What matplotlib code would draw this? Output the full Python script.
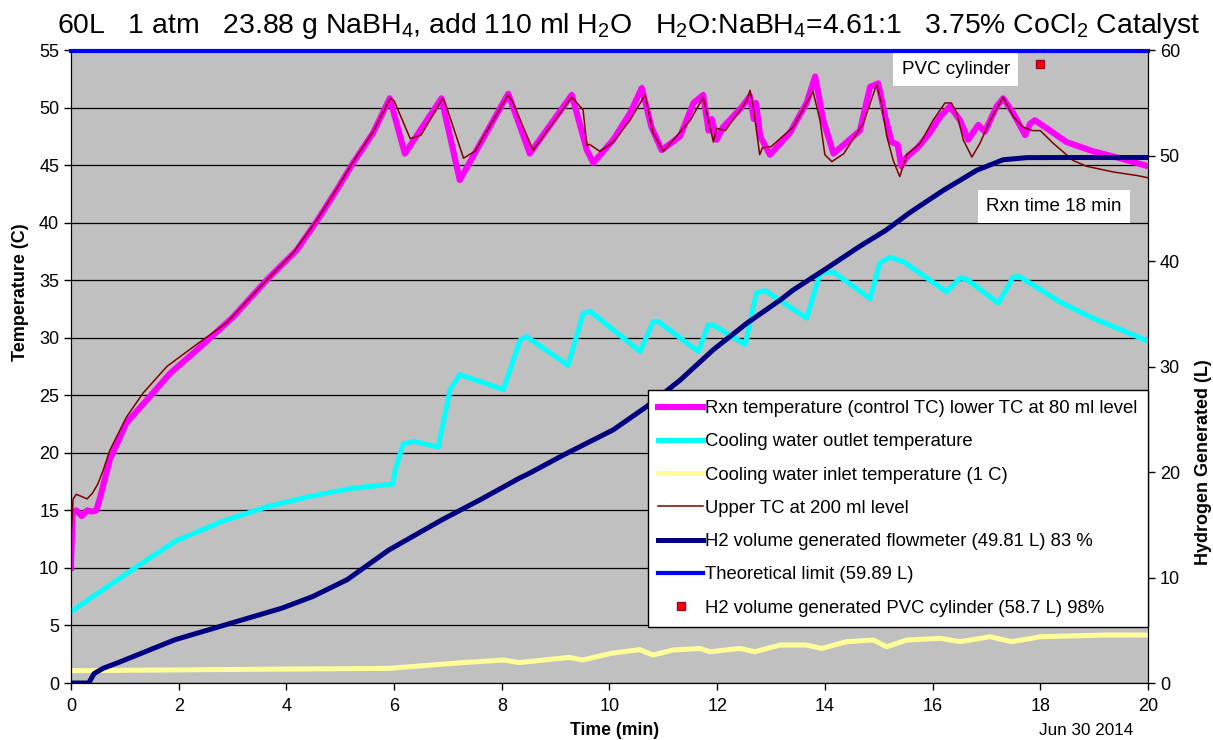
import matplotlib
matplotlib.use('Agg')
from matplotlib import pyplot as plt
from matplotlib.lines import Line2D

plt.rcParams['font.family'] = ['Liberation Sans', 'DejaVu Sans']
plt.rcParams['mathtext.fontset'] = 'custom'
plt.rcParams['mathtext.rm'] = 'Liberation Sans'
plt.rcParams['mathtext.default'] = 'regular'

# reaction (lower) thermocouple, deg C
rxn_t = [0, 0.03, 0.1, 0.2, 0.3, 0.4, 0.47, 0.54, 0.72, 1.03, 1.41, 1.84, 2.4, 3.01, 3.63, 4.19,
         4.56, 4.93, 5.24, 5.61, 5.92, 6.2, 6.88, 7.22, 8.12, 8.52, 9.3, 9.58, 9.7, 10.07, 10.38,
         10.6, 10.78, 10.97, 11.31, 11.56, 11.74, 11.84, 11.9, 11.99, 12.11, 12.45, 12.61, 12.68,
         12.72, 12.8, 12.98, 13.35, 13.66, 13.82, 13.97, 14.16, 14.53, 14.65, 14.84, 14.99, 15.12,
         15.24, 15.35, 15.42, 15.52, 15.72, 15.95, 16.14, 16.32, 16.51, 16.66, 16.85, 16.97, 17.19,
         17.31, 17.5, 17.72, 17.81, 17.9, 18.12, 18.49, 18.98, 19.48, 20.0]
rxn_temp = [10.0, 14.8, 15.0, 14.5, 15.0, 14.9, 15.0, 16.1, 19.4, 22.6, 24.6, 26.9, 29.2, 31.8, 35.0, 37.6,
            40.1, 42.8, 45.2, 47.8, 50.8, 46.0, 50.8, 43.7, 51.2, 46.0, 51.1, 46.3, 45.2, 47.2, 49.5,
            51.7, 48.3, 46.3, 47.5, 50.4, 51.1, 48.0, 49.0, 47.2, 48.3, 50.0, 51.0, 49.0,
            50.4, 47.5, 45.9, 47.8, 50.4, 52.7, 48.9, 46.0, 47.5, 48.0, 51.8, 52.1, 49.2,
            47.0, 46.8, 44.9, 45.7, 46.5, 47.8, 49.2, 50.1, 48.9, 47.2, 48.5, 47.9, 50.1,
            50.8, 49.5, 47.6, 48.6, 48.9, 48.2, 47.0, 46.2, 45.6, 44.9]

# upper thermocouple, deg C
upper_t = [0, 0.04, 0.1, 0.2, 0.3, 0.4, 0.5, 0.6, 0.72, 1.03, 1.34, 1.78, 2.27, 2.89, 3.51, 4.13, 4.56,
           4.93, 5.24, 5.61, 5.93, 6.0, 6.3, 6.5, 6.9, 6.95, 7.29, 7.5, 8.12, 8.2, 8.58, 9.3, 9.51,
           9.58, 9.63, 9.82, 10.07, 10.38, 10.66, 10.81, 11.0, 11.5, 11.74, 11.93, 11.99, 12.15,
           12.55, 12.61, 12.67, 12.79, 12.84, 13.0, 13.41, 13.78, 13.91, 14.0, 14.13, 14.35, 14.71,
           14.96, 15.05, 15.15, 15.27, 15.39, 15.52, 15.77, 16.01, 16.23, 16.35, 16.45, 16.57, 16.73,
           16.88, 17.07, 17.31, 17.5, 17.68, 17.85, 18.0, 18.24, 18.61, 18.86, 19.36, 19.79, 20.0]
upper_temp = [12.5, 16.0, 16.4, 16.2, 16.0, 16.5, 17.3, 18.5, 20.2, 23.1, 25.2, 27.5, 29.2, 31.3, 34.4, 37.4, 40.2,
              42.9, 45.3, 47.9, 50.8, 50.6, 47.3, 47.6, 50.8, 50.4, 45.6, 46.2, 51.1, 50.5, 46.3, 50.9, 49.8,
              46.7, 46.8, 46.2, 47.0, 48.9, 51.1, 47.8, 46.2, 48.9, 50.9, 47.0, 48.2, 48.0,
              50.6, 51.5, 50.1, 45.9, 46.5, 46.6, 48.3, 51.4, 48.9, 45.9, 45.3, 46.0, 48.6,
              52.0, 50.4, 47.5, 45.4, 44.0, 45.9, 46.9, 48.9, 50.4, 50.4, 49.5, 47.2, 45.7,
              46.9, 48.9, 50.9, 49.2, 48.3, 48.0, 48.0, 46.9, 45.4, 44.9, 44.4, 44.1, 43.9]

# cooling water outlet, deg C
outlet_t = [0, 0.5, 1.22, 1.93, 2.78, 3.63, 4.42, 5.2, 5.98, 6.02, 6.17, 6.36, 6.82, 7.04, 7.22, 8.03,
            8.34, 8.46, 9.23, 9.51, 9.64, 10.57, 10.81, 10.91, 11.65, 11.83, 11.93, 12.52, 12.73,
            12.89, 13.66, 13.91, 14.16, 14.84, 15.02, 15.21, 15.46, 16.26, 16.51, 16.63, 17.22, 17.5,
            17.62, 18.37, 18.98, 19.6, 20.0]
outlet_temp = [6.2, 7.8, 10.1, 12.3, 14.0, 15.3, 16.2, 16.9, 17.3, 18.5, 20.8, 21.0, 20.5, 25.5, 26.8, 25.5,
               29.8, 30.1, 27.6, 32.1, 32.3, 28.8, 31.4, 31.4, 28.8, 31.1, 31.1, 29.4, 33.9,
               34.1, 31.7, 35.6, 35.7, 33.4, 36.5, 37.0, 36.6, 34.0, 35.2, 35.1, 33.0, 35.3,
               35.3, 33.1, 31.7, 30.5, 29.7]

# cooling water inlet, deg C
inlet_t = [0, 3.35, 5.9, 7.26, 8.04, 8.32, 9.25, 9.5, 10.03, 10.56, 10.81, 11.18, 11.68, 11.87, 12.42,
           12.7, 13.17, 13.66, 13.94, 14.4, 14.9, 15.15, 15.52, 16.14, 16.51, 17.07, 17.47, 18.0,
           19.24, 20.0]
inlet_temp = [1.07, 1.19, 1.27, 1.77, 2.0, 1.77, 2.23, 2.0, 2.58, 2.9, 2.43, 2.87, 3.0, 2.72, 3.0,
              2.72, 3.3, 3.3, 3.0, 3.59, 3.74, 3.15, 3.74, 3.88, 3.59, 4.02, 3.59, 4.02,
              4.17, 4.17]

# H2 from flowmeter, L
h2_t = [0, 0.33, 0.43, 0.6, 0.86, 1.93, 2.99, 3.92, 4.49, 5.13, 5.9, 6.9, 7.61, 8.32, 8.52, 9.14,
        10.07, 10.69, 11.31, 11.93, 12.55, 13.17, 13.41, 14.03, 14.65, 15.13, 15.58, 16.2, 16.82,
        17.31, 17.75, 18.5, 20.0]
h2_vol = [0, 0, 0.9, 1.4, 1.9, 4.1, 5.7, 7.1, 8.2, 9.8, 12.6, 15.5, 17.4, 19.4, 19.9, 21.6,
          24.0, 26.2, 28.7, 31.6, 34.1, 36.3, 37.25, 39.3, 41.4, 42.9, 44.6, 46.7, 48.6,
          49.6, 49.8, 49.81, 49.81]

theoretical_l = 59.89
pvc_t, pvc_l = 18, 58.7

fig = plt.figure(figsize=(12.13, 7.40), dpi=100)
ax = fig.add_axes([0.0585, 0.077, 0.8879, 0.8554])
ax2 = ax.twinx()
ax.set_facecolor('#C0C0C0')
ax2.patch.set_visible(False)

ax.plot(inlet_t, inlet_temp, color='#FFFF99', lw=3.6)
ax.plot(outlet_t, outlet_temp, color='#00FFFF', lw=3.6)
ax.plot(rxn_t, rxn_temp, color='#FF00FF', lw=4.4)
ax.plot(upper_t, upper_temp, color='#800000', lw=1.1)

ax2.plot(h2_t, h2_vol, color='#000080', lw=3.6)
ax2.axhline(theoretical_l, color='#0000FF', lw=3, clip_on=False)
ax2.plot([pvc_t], [pvc_l], 's', color='#FF0000', mec='#990033', ms=6)

ax.set_xlim(0, 20)
ax.set_ylim(0, 55)
ax2.set_ylim(0, 60)
ax.set_xticks(range(0, 21, 2))
ax.set_yticks(range(0, 56, 5))
ax2.set_yticks(range(0, 61, 10))
ax.yaxis.grid(True, color='black', lw=0.9)
ax.set_axisbelow(True)
for a in (ax, ax2):
    a.tick_params(labelsize=13, length=5, width=1, direction='out')
    a.spines['top'].set_visible(False)
ax.tick_params(axis='x', pad=6)

fig.text(0.518, 0.985, r'60L   1 atm   23.88 g NaBH$_4$, add 110 ml H$_2$O   H$_2$O:NaBH$_4$=4.61:1   '
         r'3.75% CoCl$_2$ Catalyst', ha='center', va='top', fontsize=20.4)
fig.text(0.017, 0.605, 'Temperature (C)', rotation=90, ha='center', va='center',
         fontsize=13, fontweight='bold')
fig.text(0.992, 0.376, 'Hydrogen Generated (L)', rotation=90, ha='center', va='center',
         fontsize=13, fontweight='bold')
fig.text(0.507, 0.013, 'Time (min)', ha='center', va='center', fontsize=12.7, fontweight='bold')
fig.text(0.895, 0.013, 'Jun 30 2014', ha='center', va='center', fontsize=12.3)

box = dict(facecolor='white', edgecolor='none', pad=6)
ax.text(16.43, 53.3, 'PVC cylinder', ha='center', va='center', fontsize=13.5, bbox=box)
ax.text(18.25, 41.4, 'Rxn time 18 min', ha='center', va='center', fontsize=13.5, bbox=box)

handles = [
    Line2D([], [], color='#FF00FF', lw=4.4),
    Line2D([], [], color='#00FFFF', lw=3.6),
    Line2D([], [], color='#FFFF99', lw=3.6),
    Line2D([], [], color='#800000', lw=1.1),
    Line2D([], [], color='#000080', lw=3.6),
    Line2D([], [], color='#0000FF', lw=3),
    Line2D([], [], marker='s', ls='none', color='#FF0000', mec='#990033', ms=6),
]
labels = [
    'Rxn temperature (control TC) lower TC at 80 ml level',
    'Cooling water outlet temperature',
    'Cooling water inlet temperature (1 C)',
    'Upper TC at 200 ml level',
    'H2 volume generated flowmeter (49.81 L) 83 %',
    'Theoretical limit (59.89 L)',
    'H2 volume generated PVC cylinder (58.7 L) 98%',
]
leg = ax2.legend(handles, labels, loc='upper right', bbox_to_anchor=(1.0, 0.463),
                 borderaxespad=0, fontsize=13.3, fancybox=False, framealpha=1,
                 edgecolor='black', labelspacing=0.88, handlelength=2.4,
                 handletextpad=0.15, borderpad=0.55)
leg.get_frame().set_linewidth(1)

fig.savefig('out.png', dpi=100)
